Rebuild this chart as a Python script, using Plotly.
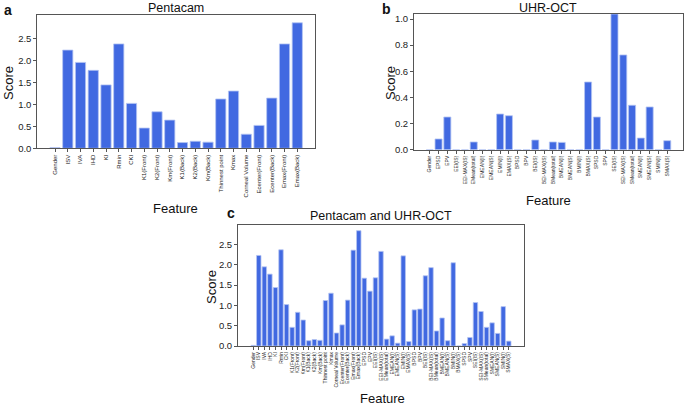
import plotly.graph_objects as go

W, H = 685, 406

# ---------------- data ----------------
penta_features = ["Gender", "ISV", "IVA", "IHD", "KI", "Rmin", "CKI", "K1(Front)", "K2(Front)",
                  "Km(Front)", "K1(Back)", "K2(Back)", "Km(Back)", "Thinnest point", "Kmax",
                  "Corneal Volume", "Ecenter(Front)", "Ecenter(Back)", "Emax(Front)", "Emax(Back)"]
penta_scores = [0.015, 2.23, 1.95, 1.77, 1.44, 2.37, 1.02, 0.46, 0.83, 0.64, 0.13, 0.16, 0.14,
                1.12, 1.30, 0.32, 0.52, 1.14, 2.37, 2.85]

oct_features = ["Gender", "EPSD", "EPV", "EEI(IS)", "EEI-MAX(IS)", "EMean(total)", "EMEAN(I)",
                "EMEAN(S)", "EMIN(I)", "EMAX(S)", "BPSD", "BPV", "BEI(IS)", "BEI-MAX(IS)",
                "BMean(total)", "BMEAN(I)", "BMEAN(S)", "BMIN(I)", "BMAX(S)", "SPSD", "SPV",
                "SEI(IS)", "SEI-MAX(IS)", "SMean(total)", "SMEAN(I)", "SMEAN(S)", "SMIN(I)", "SMAX(S)"]
oct_scores = [0.0, 0.082, 0.25, 0.0, 0.0, 0.059, 0.0, 0.0, 0.273, 0.26, 0.0, 0.0, 0.074, 0.0,
              0.059, 0.056, 0.0, 0.0, 0.518, 0.25, 0.0, 1.05, 0.725, 0.34, 0.089, 0.327, 0.0, 0.069]

comb_features = penta_features + oct_features[1:]
comb_scores = [0.015, 2.23, 1.95, 1.77, 1.44, 2.37, 1.02, 0.46, 0.83, 0.64, 0.13, 0.16, 0.14,
               1.12, 1.30, 0.32, 0.52, 1.13, 2.36, 2.84,
               1.67, 1.35, 1.68, 2.33, 0.17, 0.25, 0.07, 2.22, 0.11, 0.89, 0.91, 1.73, 1.93,
               0.37, 0.69, 0.13, 2.05, 0.0, 0.06, 0.21, 1.07, 0.85, 0.46, 0.57, 0.31, 0.97, 0.12]

y_ticks_a = [0.0, 0.5, 1.0, 1.5, 2.0, 2.5]
y_ticks_b = [0.0, 0.2, 0.4, 0.6, 0.8, 1.0]

BAR = "#4169E1"
EDGE = "#b4c4f2"
TXT = "#222222"
FONT = "Liberation Sans, Arial, sans-serif"

def px_x(x):
    return x / W

def px_y(y):
    return 1 - y / H

fig = go.Figure()

panels = [
    ("x", "y", penta_features, penta_scores),
    ("x2", "y2", oct_features, oct_scores),
    ("x3", "y3", comb_features, comb_scores),
]
for xa, ya, feats, vals in panels:
    fig.add_trace(go.Bar(x=feats, y=vals, xaxis=xa, yaxis=ya, width=0.8,
                         marker=dict(color=BAR, line=dict(color=EDGE, width=0.8)),
                         showlegend=False, hoverinfo="x+y", cliponaxis=True))

def xaxis_cfg(dom, feats, size, anchor):
    n = len(feats)
    pad = 0.05 * (n - 1 + 0.8)
    return dict(domain=dom, anchor=anchor, type="category", range=[-0.4 - pad, n - 1 + 0.4 + pad],
                tickmode="array", tickvals=feats, ticktext=feats, automargin=False,
                showline=True, mirror=True, linecolor="#555555", linewidth=1,
                ticks="outside", ticklen=3, tickcolor="#555555", tickangle=-90,
                tickfont=dict(size=size, color=TXT, family=FONT), showgrid=False, zeroline=False,
                fixedrange=True)

def yaxis_cfg(dom, rng, tv, fmt, anchor):
    return dict(domain=dom, anchor=anchor, range=rng, tickvals=tv,
                ticktext=[fmt.format(v) for v in tv], automargin=False,
                showline=True, mirror=True, linecolor="#555555", linewidth=1,
                ticks="outside", ticklen=3, tickcolor="#555555",
                tickfont=dict(size=9.5, color=TXT, family=FONT), showgrid=False, zeroline=False,
                fixedrange=True)

fig.update_layout(
    width=W, height=H, margin=dict(l=0, r=0, t=0, b=0, autoexpand=False),
    paper_bgcolor="white", plot_bgcolor="white",
    font=dict(family=FONT, color=TXT),
    xaxis=xaxis_cfg([px_x(37.3), px_x(315)], penta_features, 6, "y"),
    yaxis=yaxis_cfg([px_y(148.3), px_y(15.3)], [0, 3.02], y_ticks_a, "{:.1f}", "x"),
    xaxis2=xaxis_cfg([px_x(414), px_x(683)], oct_features, 5, "y2"),
    yaxis2=yaxis_cfg([px_y(149.7), px_y(14.3)], [0, 1.036], y_ticks_b, "{:.1f}", "x2"),
    xaxis3=xaxis_cfg([px_x(238), px_x(524)], comb_features, 5, "y3"),
    yaxis3=yaxis_cfg([px_y(346), px_y(225)], [0, 2.98], y_ticks_a, "{:.1f}", "x3"),
)

def ann(text, x, y, size, bold=False, angle=0, xanchor="center"):
    fig.add_annotation(text=("<b>%s</b>" % text) if bold else text,
                       x=px_x(x), y=px_y(y), xref="paper", yref="paper",
                       showarrow=False, textangle=angle, xanchor=xanchor, yanchor="middle",
                       font=dict(size=size, color="#111111", family=FONT))

ann("Pentacam", 176, 8, 12.5)
ann("UHR-OCT", 548, 8, 12.5)
ann("Pentacam and UHR-OCT", 381, 216, 12.5)
ann("a", 2, 10, 14, bold=True, xanchor="left")
ann("b", 380, 9, 14, bold=True, xanchor="left")
ann("c", 225, 213, 14, bold=True, xanchor="left")
ann("Score", 8, 83, 13, angle=-90)
ann("Score", 390, 83, 13, angle=-90)
ann("Score", 211, 287, 13, angle=-90)
ann("Feature", 175, 208, 13)
ann("Feature", 548, 200, 13)
ann("Feature", 382, 398, 13)

fig.write_html("out.html", config={"displayModeBar": False},
               post_script="document.body.style.margin='0';document.body.style.overflow='hidden';")
